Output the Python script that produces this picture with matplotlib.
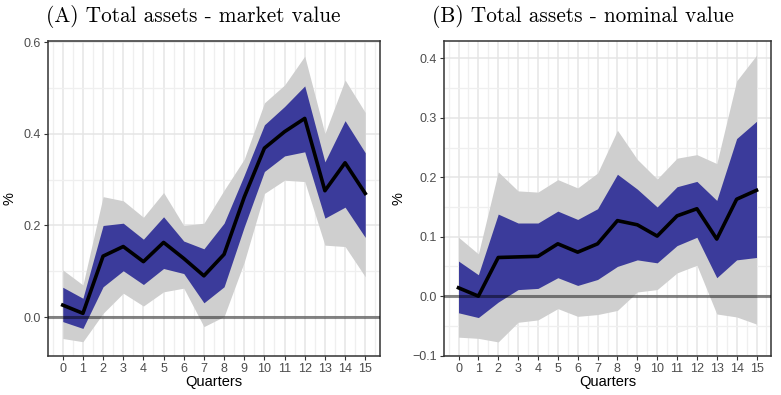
import numpy as np
import matplotlib
matplotlib.use("Agg")
import matplotlib.pyplot as plt
from matplotlib.ticker import MultipleLocator

plt.rcParams["font.family"] = ["Liberation Sans", "DejaVu Sans"]

quarters = list(range(16))

# panel A: total assets - market value
a_coef = [0.026, 0.008, 0.133, 0.154, 0.121, 0.163, 0.128, 0.090,
          0.137, 0.262, 0.369, 0.405, 0.434, 0.276, 0.337, 0.270]
a_hi68 = [0.065, 0.041, 0.200, 0.205, 0.170, 0.219, 0.166, 0.149,
          0.205, 0.310, 0.420, 0.460, 0.505, 0.339, 0.429, 0.359]
a_lo68 = [-0.010, -0.025, 0.066, 0.101, 0.071, 0.106, 0.095, 0.031,
          0.066, 0.197, 0.318, 0.352, 0.361, 0.216, 0.240, 0.174]
a_hi90 = [0.103, 0.070, 0.263, 0.254, 0.218, 0.272, 0.200, 0.205,
          0.277, 0.345, 0.468, 0.507, 0.570, 0.401, 0.518, 0.447]
a_lo90 = [-0.047, -0.054, 0.008, 0.052, 0.024, 0.055, 0.063, -0.021,
          0.001, 0.120, 0.270, 0.299, 0.296, 0.157, 0.154, 0.088]

# panel B: total assets - nominal value
b_coef = [0.014, 0.000, 0.065, 0.066, 0.067, 0.088, 0.074, 0.088,
          0.127, 0.120, 0.101, 0.135, 0.147, 0.096, 0.163, 0.178]
b_hi68 = [0.059, 0.036, 0.138, 0.123, 0.123, 0.143, 0.129, 0.147,
          0.205, 0.180, 0.150, 0.184, 0.193, 0.161, 0.265, 0.294]
b_lo68 = [-0.028, -0.036, -0.010, 0.011, 0.013, 0.031, 0.018, 0.028,
          0.050, 0.061, 0.056, 0.085, 0.099, 0.031, 0.061, 0.065]
b_hi90 = [0.099, 0.071, 0.209, 0.177, 0.175, 0.196, 0.182, 0.207,
          0.279, 0.230, 0.197, 0.232, 0.238, 0.223, 0.362, 0.405]
b_lo90 = [-0.069, -0.071, -0.077, -0.044, -0.040, -0.021, -0.034, -0.031,
          -0.024, 0.007, 0.011, 0.039, 0.052, -0.030, -0.035, -0.047]

titles = ["(A) Total assets - market value", "(B) Total assets - nominal value"]

BLUE = "#3b3b9b"
GRAY = "#cfcfcf"


def draw_panel(ax, coef, lo68, hi68, lo90, hi90, ylim, major, minor):
    ax.fill_between(quarters, lo90, hi90, color=GRAY, linewidth=0, zorder=2)
    ax.fill_between(quarters, lo68, hi68, color=BLUE, linewidth=0, zorder=3)
    ax.axhline(0, color="black", alpha=0.45, linewidth=2.2, zorder=4)
    ax.plot(quarters, coef, color="black", linewidth=2.6, zorder=5)

    ax.set_xlim(-0.73, 15.73)
    ax.set_ylim(*ylim)
    ax.set_xticks(quarters)
    ax.xaxis.set_minor_locator(MultipleLocator(0.5))
    ax.yaxis.set_major_locator(MultipleLocator(major))
    ax.yaxis.set_minor_locator(MultipleLocator(minor))
    ax.grid(which="major", color="#e5e5e5", linewidth=1.1, zorder=0)
    ax.grid(which="minor", color="#efefef", linewidth=0.9, zorder=0)
    ax.set_axisbelow(True)
    ax.tick_params(which="major", length=3, width=0.8, color="#333333",
                   labelsize=9, labelcolor="#4d4d4d", pad=2)
    ax.tick_params(which="minor", length=0)
    for sp in ax.spines.values():
        sp.set_color("#333333")
        sp.set_linewidth(1.1)
    ax.set_xlabel("Quarters", fontsize=10.5, labelpad=0)
    ax.set_ylabel("%", fontsize=10.5, labelpad=5)


fig = plt.figure(figsize=(7.81, 3.95), dpi=100)
ax_a = fig.add_axes([0.0615, 0.099, 0.425, 0.797])
ax_b = fig.add_axes([0.5685, 0.099, 0.4187, 0.797])

draw_panel(ax_a, a_coef, a_lo68, a_hi68, a_lo90, a_hi90,
           (-0.085, 0.603), 0.2, 0.1)
draw_panel(ax_b, b_coef, b_lo68, b_hi68, b_lo90, b_hi90,
           (-0.1005, 0.429), 0.1, 0.05)

ax_a.yaxis.set_major_formatter(plt.FuncFormatter(lambda v, p: f"{v:.1f}"))
ax_b.yaxis.set_major_formatter(
    plt.FuncFormatter(lambda v, p: f"{v:.1f}".replace("-", "\u2212")))

fig.text(0.248, 0.958, titles[0], family="cmr10", fontsize=15.3,
         ha="center", va="center")
fig.text(0.747, 0.958, titles[1], family="cmr10", fontsize=15.3,
         ha="center", va="center")

fig.savefig("out.png", dpi=100)
